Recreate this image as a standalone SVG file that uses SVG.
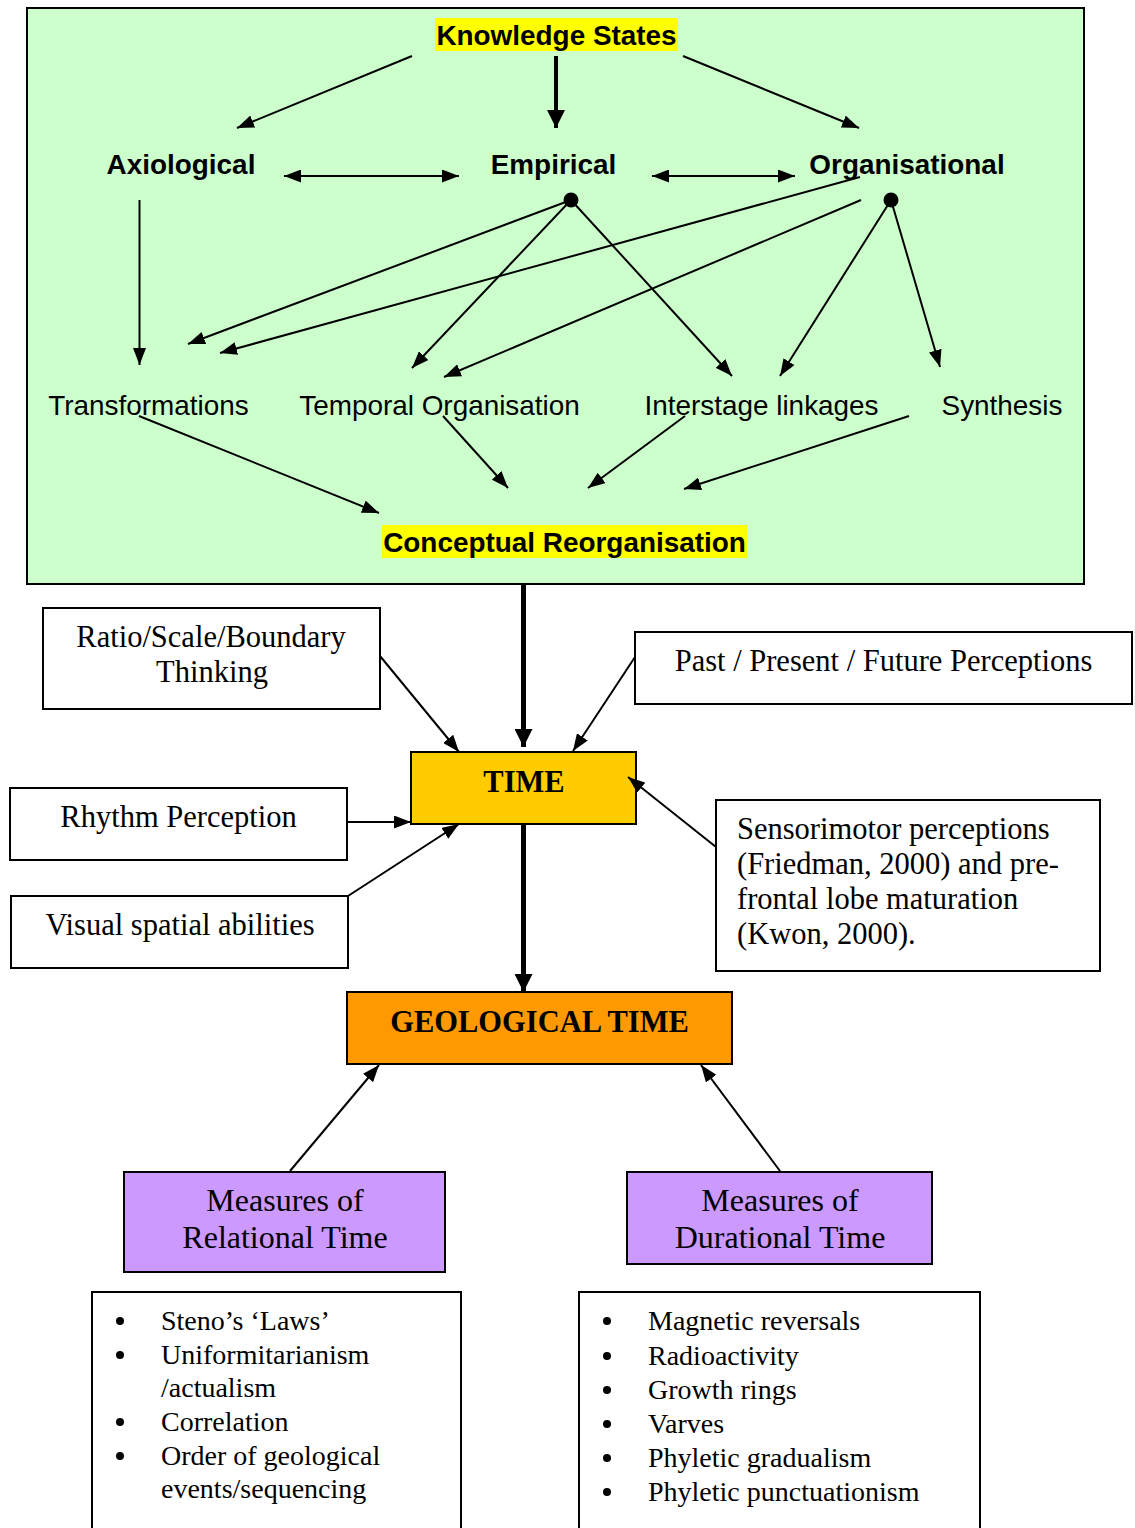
<svg xmlns="http://www.w3.org/2000/svg" width="1135" height="1528" viewBox="0 0 1135 1528">
  <style>
    .sans { font-family: "Liberation Sans", Arial, sans-serif; font-size: 27.9px; fill: #000; }
    .bold { font-weight: bold; }
    .serif { font-family: "Liberation Serif", "Times New Roman", serif; font-size: 30.5px; fill: #000; }
    .mid { text-anchor: middle; }
    .box { fill: #fff; stroke: #000; stroke-width: 2; }
    .thin { fill: none; stroke: #000; stroke-width: 2; marker-end: url(#head); }
    .thick { fill: none; stroke: #000; stroke-width: 5; marker-end: url(#bighead); }
    .list { font-family: "Liberation Serif", "Times New Roman", serif; font-size: 28px; fill: #000; }
  </style>
  <defs>
    <marker id="head" viewBox="0 0 17 13" markerWidth="17" markerHeight="13" refX="17" refY="6.5" orient="auto-start-reverse" markerUnits="userSpaceOnUse">
      <path d="M0,0 L17,6.5 L0,13 z" fill="#000"/>
    </marker>
    <marker id="bighead" viewBox="0 0 18 18" markerWidth="18" markerHeight="18" refX="18" refY="9" orient="auto" markerUnits="userSpaceOnUse">
      <path d="M0,0 L18,9 L0,18 z" fill="#000"/>
    </marker>
  </defs>

  <rect width="1135" height="1528" fill="#fff"/>

  <!-- knowledge-states panel -->
  <g id="panel">
    <rect x="27" y="8" width="1057" height="576" fill="#CCFFCC" stroke="#000" stroke-width="2"/>
  </g>

  <g id="knowledge-states">
    <rect x="435" y="18" width="243" height="33" fill="#FFFF00"/>
    <text class="sans bold mid" x="556.5" y="45">Knowledge States</text>
  </g>
  <g id="axiological"><text class="sans bold mid" x="181" y="174">Axiological</text></g>
  <g id="empirical"><text class="sans bold mid" x="553.5" y="174">Empirical</text></g>
  <g id="organisational"><text class="sans bold mid" x="907" y="174">Organisational</text></g>
  <g id="transformations"><text class="sans mid" x="148.5" y="415">Transformations</text></g>
  <g id="temporal-organisation"><text class="sans mid" x="439.5" y="415">Temporal Organisation</text></g>
  <g id="interstage-linkages"><text class="sans mid" x="761.5" y="415">Interstage linkages</text></g>
  <g id="synthesis"><text class="sans mid" x="1002" y="415">Synthesis</text></g>
  <g id="conceptual-reorganisation">
    <rect x="382" y="525" width="365" height="33" fill="#FFFF00"/>
    <text class="sans bold mid" x="564.5" y="552">Conceptual Reorganisation</text>
  </g>

  <!-- boxes below the panel -->
  <g id="ratio-scale">
    <rect class="box" x="43" y="608" width="337" height="101"/>
    <text class="serif mid" x="211" y="647">Ratio/Scale/Boundary</text>
    <text class="serif mid" x="212" y="682">Thinking</text>
  </g>
  <g id="past-present-future">
    <rect class="box" x="635" y="632" width="497" height="72"/>
    <text class="serif mid" x="883.5" y="671">Past / Present / Future Perceptions</text>
  </g>
  <g id="time">
    <rect x="411" y="752" width="225" height="72" fill="#FFCC00" stroke="#000" stroke-width="2"/>
    <text class="serif bold mid" x="524" y="792">TIME</text>
  </g>
  <g id="rhythm">
    <rect class="box" x="10" y="788" width="337" height="72"/>
    <text class="serif mid" x="178.5" y="827">Rhythm Perception</text>
  </g>
  <g id="visual-spatial">
    <rect class="box" x="11" y="896" width="337" height="72"/>
    <text class="serif mid" x="180" y="935">Visual spatial abilities</text>
  </g>
  <g id="sensorimotor">
    <rect class="box" x="716" y="800" width="384" height="171"/>
    <text class="serif" x="737" y="839">Sensorimotor perceptions</text>
    <text class="serif" x="737" y="874">(Friedman, 2000) and pre-</text>
    <text class="serif" x="737" y="909">frontal lobe maturation</text>
    <text class="serif" x="737" y="944">(Kwon, 2000).</text>
  </g>
  <g id="geological-time">
    <rect x="347" y="992" width="385" height="72" fill="#FF9900" stroke="#000" stroke-width="2"/>
    <text class="serif bold mid" x="539.5" y="1032">GEOLOGICAL TIME</text>
  </g>
  <g id="relational-time">
    <rect x="124" y="1172" width="321" height="100" fill="#CC99FF" stroke="#000" stroke-width="2"/>
    <text class="serif mid" x="285" y="1211" style="font-size:32px">Measures of</text>
    <text class="serif mid" x="285" y="1248" style="font-size:32px">Relational Time</text>
  </g>
  <g id="durational-time">
    <rect x="627" y="1172" width="305" height="92" fill="#CC99FF" stroke="#000" stroke-width="2"/>
    <text class="serif mid" x="780" y="1211" style="font-size:32px">Measures of</text>
    <text class="serif mid" x="780" y="1248" style="font-size:32px">Durational Time</text>
  </g>

  <!-- lists of measures -->
  <g id="relational-list">
    <path d="M92,1530 V1292 H461 V1530" fill="#fff" stroke="#000" stroke-width="2"/>
    <g fill="#000">
      <circle cx="120" cy="1321" r="4"/>
      <circle cx="120" cy="1355" r="4"/>
      <circle cx="120" cy="1422" r="4"/>
      <circle cx="120" cy="1456" r="4"/>
    </g>
    <text class="list" x="161" y="1330">Steno’s ‘Laws’</text>
    <text class="list" x="161" y="1364">Uniformitarianism</text>
    <text class="list" x="161" y="1397">/actualism</text>
    <text class="list" x="161" y="1431">Correlation</text>
    <text class="list" x="161" y="1465">Order of geological</text>
    <text class="list" x="161" y="1498">events/sequencing</text>
  </g>
  <g id="durational-list">
    <path d="M579,1530 V1292 H980 V1530" fill="#fff" stroke="#000" stroke-width="2"/>
    <g fill="#000">
      <circle cx="607" cy="1321" r="4"/>
      <circle cx="607" cy="1356" r="4"/>
      <circle cx="607" cy="1390" r="4"/>
      <circle cx="607" cy="1424" r="4"/>
      <circle cx="607" cy="1458" r="4"/>
      <circle cx="607" cy="1492" r="4"/>
    </g>
    <text class="list" x="648" y="1330">Magnetic reversals</text>
    <text class="list" x="648" y="1365">Radioactivity</text>
    <text class="list" x="648" y="1399">Growth rings</text>
    <text class="list" x="648" y="1433">Varves</text>
    <text class="list" x="648" y="1467">Phyletic gradualism</text>
    <text class="list" x="648" y="1501">Phyletic punctuationism</text>
  </g>

  <!-- connectors -->
  <g id="connectors">
    <line class="thin" x1="412" y1="56" x2="237" y2="128"/>
    <line x1="556" y1="56" x2="556" y2="128" stroke="#000" stroke-width="4" marker-end="url(#bighead)"/>
    <line class="thin" x1="683" y1="56" x2="859" y2="128"/>
    <line class="thin" x1="284" y1="176" x2="459" y2="176" marker-start="url(#head)"/>
    <line class="thin" x1="652" y1="176" x2="795" y2="176" marker-start="url(#head)"/>
    <line class="thin" x1="139.5" y1="200" x2="139.5" y2="365"/>

    <circle cx="571" cy="200" r="7.5" fill="#000"/>
    <line class="thin" x1="571" y1="200" x2="188" y2="344"/>
    <line class="thin" x1="571" y1="200" x2="412" y2="368"/>
    <line class="thin" x1="571" y1="200" x2="732" y2="376"/>

    <line class="thin" x1="860" y1="177" x2="220" y2="353"/>
    <line class="thin" x1="861" y1="200" x2="444" y2="377"/>
    <circle cx="891" cy="200" r="7.5" fill="#000"/>
    <line class="thin" x1="891" y1="200" x2="780" y2="376"/>
    <line class="thin" x1="891" y1="200" x2="940" y2="367"/>

    <line class="thin" x1="139" y1="416" x2="379" y2="513"/>
    <line class="thin" x1="443" y1="416" x2="508" y2="488"/>
    <line class="thin" x1="685" y1="416" x2="588" y2="488"/>
    <line class="thin" x1="909" y1="416" x2="684" y2="489"/>

    <line class="thick" x1="523.5" y1="584" x2="523.5" y2="747"/>
    <line class="thin" x1="380" y1="656" x2="459" y2="752"/>
    <line class="thin" x1="635" y1="657" x2="573" y2="751"/>
    <line class="thin" x1="347" y1="822" x2="411" y2="822"/>
    <line class="thin" x1="348" y1="896" x2="459" y2="824"/>
    <line class="thin" x1="716" y1="847" x2="628" y2="777"/>
    <line class="thick" x1="523.5" y1="824" x2="523.5" y2="992"/>
    <line class="thin" x1="290" y1="1171" x2="379" y2="1065"/>
    <line class="thin" x1="780" y1="1171" x2="701" y2="1065"/>
  </g>
</svg>
